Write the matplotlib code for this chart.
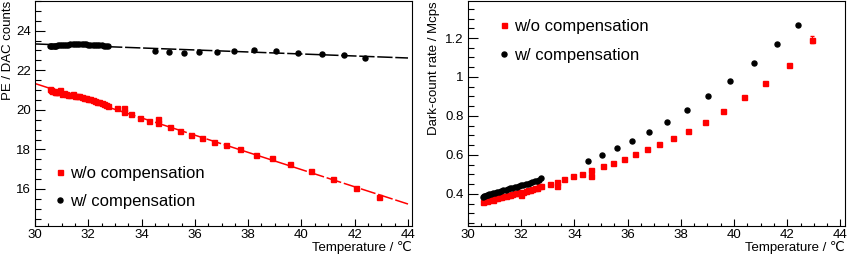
import matplotlib
matplotlib.use("Agg")
import matplotlib.pyplot as plt
from matplotlib.ticker import MultipleLocator, FormatStrFormatter

plt.rcParams['font.family'] = ['Liberation Sans', 'DejaVu Sans']

# dense scan near 30-33 C, then sparse points
t_dense = [30.55, 30.60, 30.65, 30.70, 30.75, 30.80, 30.87, 30.95, 31.02, 31.10,
           31.18, 31.25, 31.33, 31.42, 31.50, 31.58, 31.66, 31.75, 31.83, 31.92,
           32.00, 32.08, 32.17, 32.25, 32.33, 32.42, 32.50, 32.58, 32.67, 32.75]
t_red = [33.08, 33.34, 33.34, 33.62, 33.95, 34.28, 34.63, 34.63, 35.06, 35.45,
         35.87, 36.28, 36.72, 37.18, 37.70, 38.28, 38.91, 39.57, 40.36, 41.18,
         42.05, 42.92]
t_black = [34.5, 35.03, 35.59, 36.17, 36.82, 37.47, 38.23, 39.03, 39.86, 40.76,
           41.6, 42.39]

# PE / DAC counts
pe_red_dense = [21.03, 21.00, 20.95, 20.93, 20.90, 20.92, 20.88, 20.98, 20.82, 20.85,
                20.78, 20.76, 20.74, 20.78, 20.70, 20.68, 20.69, 20.66, 20.60, 20.58,
                20.55, 20.57, 20.50, 20.46, 20.42, 20.38, 20.33, 20.30, 20.25, 20.20]
pe_red = [20.07, 20.07, 19.90, 19.80, 19.58, 19.46, 19.56, 19.31, 19.13, 18.92,
          18.74, 18.57, 18.40, 18.22, 18.00, 17.71, 17.55, 17.26, 16.92, 16.50,
          16.03, 15.60]
pe_black_dense = [23.22, 23.23, 23.22, 23.24, 23.25, 23.24, 23.26, 23.27, 23.28, 23.29,
                  23.30, 23.30, 23.31, 23.32, 23.33, 23.32, 23.33, 23.32, 23.32, 23.31,
                  23.30, 23.30, 23.29, 23.28, 23.28, 23.27, 23.26, 23.25, 23.25, 23.24]
pe_black = [22.97, 22.92, 22.87, 22.92, 22.92, 22.99, 23.00, 22.99, 22.89, 22.81,
            22.77, 22.64]
fit_x = [30, 44]
fit_red = [21.33, 15.24]
fit_black = [23.33, 22.62]

# dark-count rate / Mcps
dcr_red_dense = [0.360, 0.365, 0.370, 0.362, 0.368, 0.375, 0.372, 0.370, 0.380, 0.378,
                 0.385, 0.383, 0.390, 0.388, 0.392, 0.395, 0.398, 0.402, 0.405, 0.408,
                 0.396, 0.412, 0.415, 0.420, 0.422, 0.425, 0.428, 0.432, 0.438, 0.442]
dcr_red = [0.451, 0.461, 0.441, 0.475, 0.490, 0.504, 0.523, 0.494, 0.541, 0.560,
           0.580, 0.606, 0.628, 0.657, 0.688, 0.725, 0.769, 0.827, 0.899, 0.970,
           1.064, 1.191]
dcr_red_err = [0.0] * 21 + [0.018]
dcr_black_dense = [0.385, 0.388, 0.391, 0.393, 0.396, 0.399, 0.401, 0.404, 0.406, 0.410,
                   0.412, 0.415, 0.419, 0.421, 0.424, 0.428, 0.430, 0.434, 0.437, 0.440,
                   0.443, 0.448, 0.451, 0.453, 0.457, 0.461, 0.464, 0.468, 0.473, 0.480]
dcr_black = [0.567, 0.597, 0.635, 0.672, 0.718, 0.768, 0.831, 0.902, 0.979, 1.074,
             1.168, 1.265]

RED = '#ff0000'
fig = plt.figure(figsize=(8.47, 2.54), dpi=100)
ax1 = fig.add_axes([35 / 847, 28 / 254, 377 / 847, 225 / 254])
ax2 = fig.add_axes([468 / 847, 28 / 254, 377 / 847, 225 / 254])


def style(ax, xmax):
    ax.xaxis.set_major_locator(MultipleLocator(2))
    ax.xaxis.set_minor_locator(MultipleLocator(0.5))
    ax.tick_params(axis='both', which='both', direction='in', labelsize=9.5,
                   top=False, right=False, width=0.8)
    ax.tick_params(axis='x', which='major', length=5, pad=2)
    ax.tick_params(axis='x', which='minor', length=2.5)
    ax.tick_params(axis='y', which='major', length=7.5, pad=3)
    ax.tick_params(axis='y', which='minor', length=4)
    for s in ax.spines.values():
        s.set_linewidth(0.8)
    ax.set_xlim(30, xmax)
    ax.set_xlabel('Temperature / ℃', fontsize=9.5, ha='right', va='top')
    ax.xaxis.set_label_coords(1.0, -0.066)


def add_legend(ax, handles, **kw):
    ax.legend(handles, [h.get_label() for h in handles], frameon=False,
              fontsize=12, handlelength=0.5, handletextpad=0.35,
              labelspacing=0.82, borderaxespad=0, **kw)


# left: gain
ax1.plot(fit_x, fit_red, color=RED, lw=1.1, ls=(0, (10, 1.8)))
ax1.plot(fit_x, fit_black, color='black', lw=1.1, ls=(0, (10, 1.8)))
r1, = ax1.plot(t_dense + t_red, pe_red_dense + pe_red, 's', color=RED, ms=3.6,
               mec=RED, label='w/o compensation')
b1, = ax1.plot(t_dense + t_black, pe_black_dense + pe_black, 'o', color='black',
               ms=3.6, label='w/ compensation')
style(ax1, 44.15)
ax1.set_ylim(14.13, 25.5)
ax1.yaxis.set_major_locator(MultipleLocator(2))
ax1.yaxis.set_minor_locator(MultipleLocator(0.5))
ax1.set_ylabel('PE / DAC counts', fontsize=9.5, ha='right', va='bottom')
ax1.yaxis.set_label_coords(-0.055, 1.0)
add_legend(ax1, [r1, b1], loc='lower left', bbox_to_anchor=(0.037, 0.045))

# right: dark-count rate
ax2.errorbar(t_dense + t_red, dcr_red_dense + dcr_red, yerr=[0.0] * 30 + dcr_red_err,
             fmt='none', ecolor=RED, elinewidth=0.8, capsize=1.5)
r2, = ax2.plot(t_dense + t_red, dcr_red_dense + dcr_red, 's', color=RED, ms=3.6,
               label='w/o compensation')
b2, = ax2.plot(t_dense + t_black, dcr_black_dense + dcr_black, 'o', color='black',
               ms=3.6, label='w/ compensation')
style(ax2, 44.17)
ax2.set_ylim(0.235, 1.39)
ax2.yaxis.set_major_locator(MultipleLocator(0.2))
ax2.yaxis.set_minor_locator(MultipleLocator(0.05))
ax2.yaxis.set_major_formatter(FormatStrFormatter('%g'))
ax2.set_ylabel('Dark-count rate / Mcps', fontsize=9.5, ha='right', va='bottom')
ax2.yaxis.set_label_coords(-0.075, 1.0)
add_legend(ax2, [r2, b2], loc='upper left', bbox_to_anchor=(0.066, 0.95))

fig.savefig('out.png', dpi=100)
